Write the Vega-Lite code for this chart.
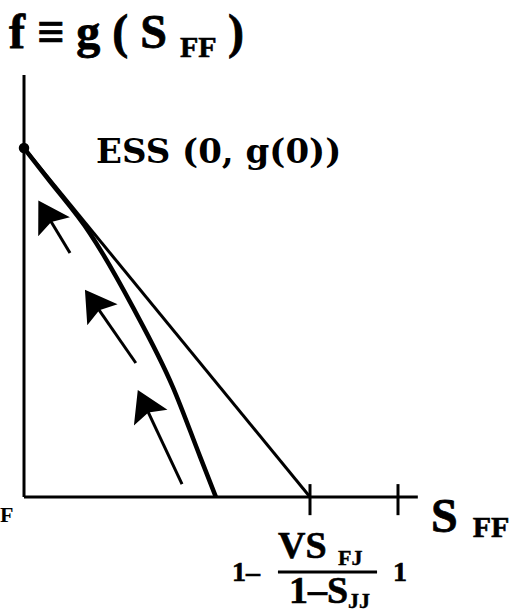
{
  "$schema": "https://vega.github.io/schema/vega-lite/v6.json",
  "width": 509,
  "height": 614,
  "autosize": {"type": "none"},
  "padding": 0,
  "background": "white",
  "config": {"view": {"stroke": null}},
  "datasets": {
    "axes": [
      {"x": 0, "y": 0, "x2": 0, "y2": 1.209},
      {"x": 0, "y": 0, "x2": 1.053, "y2": 0}
    ],
    "ticks": [
      {"x": 0.7647, "y": -0.052, "x2": 0.7647, "y2": 0.037},
      {"x": 1.0, "y": -0.052, "x2": 1.0, "y2": 0.037}
    ],
    "chord": [
      {"x": 0, "y": 1, "x2": 0.7647, "y2": 0}
    ],
    "g_curve": [
      {"x": 0, "y": 1},
      {"x": 0.0615, "y": 0.915},
      {"x": 0.176, "y": 0.756},
      {"x": 0.291, "y": 0.544},
      {"x": 0.398, "y": 0.315},
      {"x": 0.471, "y": 0.115},
      {"x": 0.513, "y": 0}
    ],
    "ess": [
      {"x": 0, "y": 1}
    ],
    "flow": [
      {"x": 0.123, "y": 0.699, "x2": 0.060, "y2": 0.811, "heading": 329},
      {"x": 0.299, "y": 0.384, "x2": 0.187, "y2": 0.557, "heading": 325},
      {"x": 0.4225, "y": 0.037, "x2": 0.322, "y2": 0.266, "heading": 335}
    ],
    "fraction_bar": [
      {"x": 0.679, "y": -0.2149, "x2": 0.944, "y2": -0.2149}
    ],
    "big_text": [
      {"x": -0.0401, "y": 1.2865, "label": "f ≡ g ( S"},
      {"x": 0.5455, "y": 1.2865, "label": ")"},
      {"x": 1.0882, "y": -0.1003, "label": "S"}
    ],
    "sub_text": [
      {"x": 0.4171, "y": 1.2607, "label": "FF"},
      {"x": 1.2, "y": -0.1146, "label": "FF"}
    ],
    "edge_text": [
      {"x": -0.0642, "y": -0.0716, "label": "F"}
    ],
    "ess_text": [
      {"x": 0.1925, "y": 0.957, "label": "ESS (0, g(0))"}
    ],
    "tick_text": [
      {"x": 0.5561, "y": -0.2407, "label": "1–"},
      {"x": 0.9866, "y": -0.2407, "label": "1"}
    ],
    "frac_text": [
      {"x": 0.6791, "y": -0.1748, "label": "VS"},
      {"x": 0.7086, "y": -0.3037, "label": "1–S"}
    ],
    "frac_sub": [
      {"x": 0.8396, "y": -0.1948, "label": "FJ"},
      {"x": 0.8663, "y": -0.3181, "label": "JJ"}
    ]
  },
  "encoding": {
    "x": {"field": "x", "type": "quantitative", "scale": {"domain": [-0.0642, 1.2968], "nice": false, "zero": false}, "axis": null},
    "y": {"field": "y", "type": "quantitative", "scale": {"domain": [-0.3352, 1.4241], "nice": false, "zero": false}, "axis": null}
  },
  "layer": [
    {
      "data": {"name": "axes"},
      "mark": {"type": "rule", "color": "black", "strokeWidth": 3},
      "encoding": {"x2": {"field": "x2"}, "y2": {"field": "y2"}}
    },
    {
      "data": {"name": "ticks"},
      "mark": {"type": "rule", "color": "black", "strokeWidth": 3},
      "encoding": {"x2": {"field": "x2"}, "y2": {"field": "y2"}}
    },
    {
      "data": {"name": "chord"},
      "mark": {"type": "rule", "color": "black", "strokeWidth": 3},
      "encoding": {"x2": {"field": "x2"}, "y2": {"field": "y2"}}
    },
    {
      "data": {"name": "g_curve"},
      "mark": {"type": "line", "color": "black", "strokeWidth": 4.5, "interpolate": "monotone"},
      "encoding": {}
    },
    {
      "data": {"name": "ess"},
      "mark": {"type": "point", "filled": true, "color": "black", "opacity": 1, "size": 110, "shape": "circle"}
    },
    {
      "data": {"name": "flow"},
      "mark": {"type": "rule", "color": "black", "strokeWidth": 3},
      "encoding": {"x2": {"field": "x2"}, "y2": {"field": "y2"}}
    },
    {
      "data": {"name": "flow"},
      "mark": {"type": "point", "filled": true, "color": "black", "opacity": 1, "size": 1369, "shape": "M0,-0.85L1,0.8L0,0.5L-1,0.8Z"},
      "encoding": {
        "x": {"field": "x2", "type": "quantitative"},
        "y": {"field": "y2", "type": "quantitative"},
        "angle": {"field": "heading", "type": "quantitative", "scale": null}
      }
    },
    {
      "data": {"name": "fraction_bar"},
      "mark": {"type": "rule", "color": "black", "strokeWidth": 3},
      "encoding": {"x2": {"field": "x2"}, "y2": {"field": "y2"}}
    },
    {
      "data": {"name": "big_text"},
      "mark": {"type": "text", "align": "left", "baseline": "alphabetic", "font": "Liberation Serif", "fontWeight": "bold", "fontSize": 48, "color": "black", "stroke": "black", "strokeWidth": 0.8},
      "encoding": {"text": {"field": "label"}}
    },
    {
      "data": {"name": "sub_text"},
      "mark": {"type": "text", "align": "left", "baseline": "alphabetic", "font": "Liberation Serif", "fontWeight": "bold", "fontSize": 30, "color": "black", "stroke": "black", "strokeWidth": 0.6},
      "encoding": {"text": {"field": "label"}}
    },
    {
      "data": {"name": "edge_text"},
      "mark": {"type": "text", "align": "left", "baseline": "alphabetic", "font": "Liberation Serif", "fontWeight": "bold", "fontSize": 22, "color": "black"},
      "encoding": {"text": {"field": "label"}}
    },
    {
      "data": {"name": "ess_text"},
      "mark": {"type": "text", "align": "left", "baseline": "alphabetic", "font": "DejaVu Serif", "fontWeight": "bold", "fontSize": 34, "color": "black"},
      "encoding": {"text": {"field": "label"}}
    },
    {
      "data": {"name": "tick_text"},
      "mark": {"type": "text", "align": "left", "baseline": "alphabetic", "font": "Liberation Serif", "fontWeight": "bold", "fontSize": 28, "color": "black", "stroke": "black", "strokeWidth": 0.6},
      "encoding": {"text": {"field": "label"}}
    },
    {
      "data": {"name": "frac_text"},
      "mark": {"type": "text", "align": "left", "baseline": "alphabetic", "font": "Liberation Serif", "fontWeight": "bold", "fontSize": 38, "color": "black", "stroke": "black", "strokeWidth": 0.6},
      "encoding": {"text": {"field": "label"}}
    },
    {
      "data": {"name": "frac_sub"},
      "mark": {"type": "text", "align": "left", "baseline": "alphabetic", "font": "Liberation Serif", "fontWeight": "bold", "fontSize": 22, "color": "black", "stroke": "black", "strokeWidth": 0.4},
      "encoding": {"text": {"field": "label"}}
    }
  ]
}
